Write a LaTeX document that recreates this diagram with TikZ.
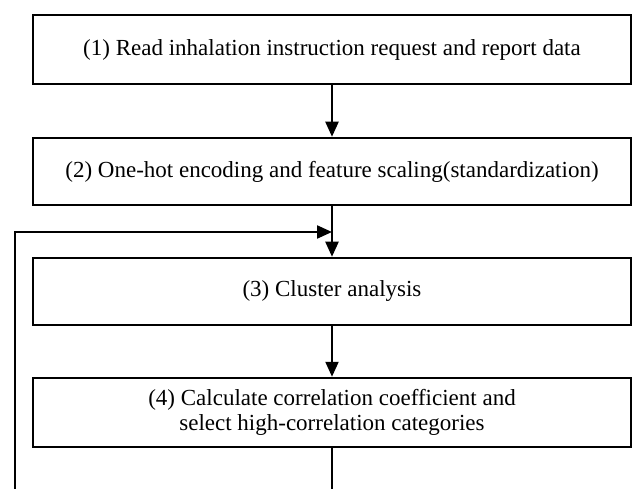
\documentclass[tikz,border=0pt]{standalone}
\usepackage{fontspec}
\setmainfont{Liberation Serif}
\usetikzlibrary{arrows.meta}
\begin{document}
\begin{tikzpicture}[x=1pt,y=-1pt,
  box/.style={draw, line width=2.5pt, minimum width=598pt, inner sep=0pt, align=center,
    font=\fontsize{23}{25}\selectfont},
  flow/.style={line width=2.2pt, -{Triangle[length=15pt,width=13pt]}},
  plain/.style={line width=2.2pt}]
\useasboundingbox (0,0) rectangle (635,489);
\node[box, minimum height=69pt] (b1) at (332,49.5) {(1) Read inhalation instruction request and report data};
\node[box, minimum height=67pt] (b2) at (332,171.5) {(2) One-hot encoding and feature scaling(standardization)};
\node[box, minimum height=67pt] (b3) at (332,291.5) {(3) Cluster analysis};
\node[box, minimum height=69pt] (b4) at (332,412.5) {(4) Calculate correlation coefficient and\\select high-correlation categories};
\coordinate (m) at (332,232);
\coordinate (lb) at (15,490);
\coordinate (rb) at (332,490);
\draw[flow] (b1) -- (b2);
\draw[plain] (b2) -- (m);
\draw[flow] (m) -- (b3);
\draw[flow] (b3) -- (b4);
\draw[plain] (b4) -- (rb);
\draw[flow] (lb) |- (m);
\end{tikzpicture}
\end{document}
